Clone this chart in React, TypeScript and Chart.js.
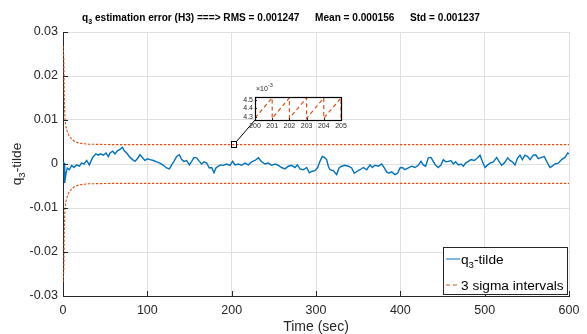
import React, { useEffect, useRef } from "react";
import { Chart, registerables } from "chart.js";

Chart.register(...registerables);

const FONT = "'Liberation Sans', Arial, Helvetica, sans-serif";
const AXIS_COLOR = "#262626";
const GRID_COLOR = "#dfdfdf";
const BLUE = "#0072BD";
const ORANGE = "#D95319";

// ---- data ----
const errorTime = [
  0, 1.2, 2.0, 3.6, 5.1, 7.5, 10.3, 13.0, 16.2, 19.4, 22.1, 24.9, 28.1, 31.2, 34.0, 36.0, 39.1, 41.9, 44.7, 47.8,
  51.0, 53.8, 55.7, 58.9, 61.7, 64.4, 67.6, 70.4, 72.7, 75.5, 79.5, 82.6, 85.4, 88.1, 91.3, 94.5, 97.2, 100.0,
  103.2, 107.1, 111.1, 115.0, 119.0, 122.9, 126.1, 128.9, 131.6, 134.8, 138.0, 140.7, 143.5, 146.6, 149.8, 152.6,
  155.3, 158.5, 161.7, 164.4, 167.2, 170.4, 173.5, 176.3, 179.0, 181.4, 184.2, 187.0, 190.1, 194.1, 198.0, 201.2,
  204.0, 207.9, 211.9, 215.8, 219.8, 223.7, 227.7, 231.6, 235.6, 239.5, 243.5, 247.4, 251.4, 255.3, 259.3, 263.2,
  267.2, 271.1, 275.1, 277.9, 281.0, 285.0, 288.9, 292.1, 294.9, 298.8, 302.0, 304.7, 307.5, 309.9, 312.6, 314.6,
  316.6, 320.5, 324.5, 327.3, 330.4, 334.4, 338.3, 342.3, 345.4, 348.2, 352.2, 356.1, 360.1, 364.0, 366.8, 370.0,
  373.9, 377.9, 381.0, 383.8, 386.5, 389.7, 393.7, 396.8, 399.6, 402.4, 405.5, 409.5, 413.4, 417.4, 421.3, 424.5,
  427.3, 430.0, 433.2, 436.4, 439.1, 441.9, 445.0, 448.2, 451.0, 453.7, 456.9, 460.1, 462.8, 465.6, 468.8, 471.9,
  474.7, 477.5, 480.6, 483.8, 487.7, 491.7, 494.5, 497.2, 500.4, 503.6, 506.3, 510.3, 514.2, 517.0, 520.1, 523.3,
  527.3, 530.0, 532.8, 536.0, 539.1, 541.9, 544.7, 547.8, 551.0, 553.8, 557.7, 560.5, 563.6, 567.6, 570.7, 573.5,
  577.5, 580.2, 583.4, 587.3, 591.3, 595.3, 598.4, 600,
];
const errorValue = [
  0.0005, 0.0002, -0.0043, -0.0021, -0.0009, -0.0013, -0.0003, -0.0008, -0.0002, -0.0005, 0.0002, 0.0, 0.0008,
  -0.0002, 0.001, 0.0017, 0.0023, 0.002, 0.0023, 0.002, 0.0025, 0.0017, 0.0025, 0.0029, 0.0023, 0.003, 0.0033,
  0.0038, 0.003, 0.0025, 0.0015, 0.001, 0.0006, 0.0012, 0.0021, 0.0014, 0.0008, 0.0012, 0.001, 0.0008, 0.0005,
  0.0002, -0.0003, -0.0009, -0.0011, -0.0002, 0.0006, 0.0017, 0.0021, 0.001, 0.0006, 0.0008, -0.0002, 0.0006,
  0.0015, 0.0014, 0.0006, 0.0, 0.0005, 0.0002, -0.0009, -0.0008, -0.002, -0.0009, -0.0005, -0.0002, -0.0003, 0.0,
  -0.0003, 0.0006, -0.0002, 0.0, -0.0003, 0.0002, -0.0002, 0.0005, 0.0008, 0.0014, 0.0005, 0.0, 0.0002, -0.0003,
  0.0, -0.0003, -0.0008, -0.0011, -0.0005, -0.0003, -0.0008, -0.0002, -0.0011, -0.0013, -0.0008, -0.002, -0.0017,
  -0.0015, -0.0008, 0.0006, 0.0017, 0.0015, 0.001, -0.0005, -0.0013, -0.0015, -0.0024, -0.0009, -0.0005, -0.0003,
  -0.0005, -0.0009, -0.0021, -0.0017, -0.0013, -0.0008, -0.0013, -0.0002, -0.0008, -0.0003, -0.0005, 0.0, -0.0009,
  -0.0018, -0.0021, -0.0018, -0.0024, -0.0021, -0.0009, -0.0008, -0.0013, -0.0009, -0.0005, -0.0008, -0.0003,
  0.0006, -0.0002, -0.0005, 0.0014, 0.0015, 0.0006, -0.0003, -0.0008, -0.0002, 0.001, 0.0005, 0.0006, 0.0008, 0.0,
  0.0005, -0.0002, 0.0, -0.0005, 0.0002, 0.0006, 0.001, 0.0008, 0.0014, 0.002, 0.0006, -0.0008, -0.0002, 0.0002,
  0.0005, 0.0015, 0.0006, -0.0003, 0.0002, 0.0014, 0.0008, 0.0005, -0.0002, 0.0014, 0.002, 0.001, 0.002, 0.0017,
  0.001, 0.002, 0.0021, 0.0012, 0.0015, 0.0017, 0.0006, -0.0008, -0.0005, 0.0, 0.0002, 0.001, 0.0015, 0.0025,
  0.0023,
];
const sigmaTime = [0, 1.0, 1.5, 2.0, 2.5, 3.5, 5, 7, 10, 14, 18, 24, 30, 45, 60, 600];
const sigmaValue = [
  0.0268, 0.024, 0.016, 0.0115, 0.0098, 0.0085, 0.0074, 0.0065, 0.0057, 0.0051, 0.0048, 0.0046, 0.0045, 0.00445,
  0.0044, 0.0044,
];
const insetTime = [200, 201, 201, 202, 202, 203, 203, 204, 204, 205, 205];
const insetValue = [
  0.00429, 0.004525, 0.004285, 0.004525, 0.004285, 0.004525, 0.004285, 0.004525, 0.004285, 0.004525, 0.004285,
];
const xTicks = [0, 100, 200, 300, 400, 500, 600];
const yTicks = [-0.03, -0.02, -0.01, 0, 0.01, 0.02, 0.03];
const insetXTicks = [200, 201, 202, 203, 204, 205];
const insetYTicks = [0.0043, 0.0044, 0.0045];

const titleSegments = [
  { x: 82, base: "q", sub: "3", rest: " estimation error (H3) ===> RMS = 0.001247" },
  { x: 315, base: "Mean = 0.000156", sub: "", rest: "" },
  { x: 410, base: "Std = 0.001237", sub: "", rest: "" },
];
const legendItems = [
  { base: "q", sub: "3", rest: "-tilde", color: BLUE, dash: [] as number[] },
  { base: "3 sigma intervals", sub: "", rest: "", color: ORANGE, dash: [4, 3] },
];

// layout constants
const W = 587;
const H = 334;
const INSET = { left: 225, top: 82, width: 125, height: 52, axisW: 30, axisH: 14, padTop: 15, padRight: 9 };

function font(size: number, bold = false) {
  return `${bold ? "bold " : ""}${size}px ${FONT}`;
}

function subTextWidth(ctx: CanvasRenderingContext2D, base: string, sub: string, rest: string, size: number, bold: boolean) {
  ctx.font = font(size, bold);
  let w = ctx.measureText(base).width + ctx.measureText(rest).width;
  if (sub) {
    ctx.font = font(size * 0.7, bold);
    w += ctx.measureText(sub).width;
  }
  return w;
}

function drawSubText(
  ctx: CanvasRenderingContext2D,
  x: number,
  y: number,
  base: string,
  sub: string,
  rest: string,
  size: number,
  bold: boolean
) {
  ctx.textAlign = "left";
  ctx.textBaseline = "alphabetic";
  ctx.font = font(size, bold);
  ctx.fillText(base, x, y);
  x += ctx.measureText(base).width;
  if (sub) {
    ctx.font = font(size * 0.7, bold);
    ctx.fillText(sub, x, y + size * 0.3);
    x += ctx.measureText(sub).width;
  }
  if (rest) {
    ctx.font = font(size, bold);
    ctx.fillText(rest, x, y);
  }
}

const mainDecor = {
  id: "mainDecor",
  afterDraw(chart: any) {
    const { ctx, chartArea: a } = chart;
    const xs = chart.scales.x;
    const ys = chart.scales.y;
    ctx.save();

    // inward ticks
    ctx.strokeStyle = AXIS_COLOR;
    ctx.lineWidth = 1;
    ctx.setLineDash([]);
    ctx.beginPath();
    for (const v of xTicks) {
      const px = Math.round(xs.getPixelForValue(v)) + 0.5;
      ctx.moveTo(px, a.bottom);
      ctx.lineTo(px, a.bottom - 5);
    }
    for (const v of yTicks) {
      const py = Math.round(ys.getPixelForValue(v)) + 0.5;
      ctx.moveTo(a.left, py);
      ctx.lineTo(a.left + 5, py);
    }
    ctx.stroke();

    // zoom rectangle + connector
    const x0 = xs.getPixelForValue(insetTime[0]);
    const x1 = xs.getPixelForValue(insetTime[insetTime.length - 1]);
    const yTop = ys.getPixelForValue(Math.max(...insetValue));
    const yBot = ys.getPixelForValue(Math.min(...insetValue));
    ctx.strokeStyle = "#000";
    ctx.lineWidth = 1;
    ctx.strokeRect(Math.round(x0) - 0.5, Math.round(yTop) - 2.5, Math.round(x1 - x0) + 1, Math.round(yBot - yTop) + 5);
    ctx.beginPath();
    ctx.moveTo(Math.round(x1) + 0.5, Math.round(yTop) - 2.5);
    ctx.lineTo(INSET.left + INSET.axisW, INSET.top + INSET.height - INSET.axisH);
    ctx.stroke();

    // legend
    const lx = 443.5;
    const ly = 247.5;
    const lw = 124;
    const lh = 47;
    ctx.fillStyle = "#fff";
    ctx.fillRect(lx, ly, lw, lh);
    ctx.strokeStyle = AXIS_COLOR;
    ctx.lineWidth = 1;
    ctx.strokeRect(lx, ly, lw, lh);
    legendItems.forEach((it, i) => {
      const by = 263.5 + i * 26;
      ctx.strokeStyle = it.color;
      ctx.lineWidth = 1;
      ctx.setLineDash(it.dash);
      ctx.beginPath();
      ctx.moveTo(446, by - 4.5);
      ctx.lineTo(460, by - 4.5);
      ctx.stroke();
      ctx.setLineDash([]);
      ctx.fillStyle = "#000";
      drawSubText(ctx, 461, by, it.base, it.sub, it.rest, 13.7, false);
    });

    // title
    ctx.fillStyle = "#000";
    for (const s of titleSegments) {
      drawSubText(ctx, s.x, 20.5, s.base, s.sub, s.rest, 10.1, true);
    }

    // axis titles
    ctx.fillStyle = AXIS_COLOR;
    ctx.font = font(14);
    ctx.textAlign = "center";
    ctx.textBaseline = "alphabetic";
    ctx.fillText("Time (sec)", (a.left + a.right) / 2, 330.5);

    ctx.save();
    ctx.translate(20.5, (a.top + a.bottom) / 2);
    ctx.rotate(-Math.PI / 2);
    const tw = subTextWidth(ctx, "q", "3", "-tilde", 13.7, false);
    drawSubText(ctx, -tw / 2, 0, "q", "3", "-tilde", 13.7, false);
    ctx.restore();

    ctx.restore();
  },
};

const insetDecor = {
  id: "insetDecor",
  beforeDraw(chart: any) {
    const { ctx, chartArea: a } = chart;
    ctx.save();
    ctx.fillStyle = "#fff";
    ctx.fillRect(a.left, a.top, a.right - a.left, a.bottom - a.top);
    ctx.restore();
  },
  afterDraw(chart: any) {
    const { ctx, chartArea: a } = chart;
    const xs = chart.scales.x;
    const ys = chart.scales.y;
    ctx.save();
    ctx.strokeStyle = AXIS_COLOR;
    ctx.lineWidth = 1;
    ctx.beginPath();
    for (const v of insetXTicks) {
      const px = Math.round(xs.getPixelForValue(v)) + 0.5;
      ctx.moveTo(px, a.bottom);
      ctx.lineTo(px, a.bottom - 2);
    }
    for (const v of insetYTicks) {
      const py = Math.round(ys.getPixelForValue(v)) + 0.5;
      ctx.moveTo(a.left, py);
      ctx.lineTo(a.left + 2, py);
    }
    ctx.stroke();
    ctx.strokeStyle = "#000";
    ctx.lineWidth = 1.2;
    ctx.strokeRect(Math.round(a.left) + 0.5, Math.round(a.top) + 0.5, Math.round(a.right - a.left), Math.round(a.bottom - a.top));
    // exponent label
    ctx.fillStyle = AXIS_COLOR;
    ctx.textAlign = "left";
    ctx.textBaseline = "alphabetic";
    ctx.font = font(7);
    ctx.fillText("\u00d710", a.left + 1, a.top - 6.5);
    const w = ctx.measureText("\u00d710").width;
    ctx.font = font(5.5);
    ctx.fillText("-3", a.left + 1 + w, a.top - 10);
    ctx.restore();
  },
};

export default function App() {
  const mainRef = useRef<HTMLCanvasElement | null>(null);
  const insetRef = useRef<HTMLCanvasElement | null>(null);

  useEffect(() => {
    if (!mainRef.current || !insetRef.current) return;
    const errPts = errorTime.map((t, i) => ({ x: t, y: errorValue[i] }));
    const upPts = sigmaTime.map((t, i) => ({ x: t, y: sigmaValue[i] }));
    const loPts = sigmaTime.map((t, i) => ({ x: t, y: -sigmaValue[i] }));

    const main = new Chart(mainRef.current, {
      type: "line",
      data: {
        datasets: [
          { data: errPts, borderColor: BLUE, borderWidth: 1.4, pointRadius: 0, tension: 0, fill: false },
          { data: upPts, borderColor: ORANGE, borderWidth: 1.1, borderDash: [2.5, 1.5], pointRadius: 0, tension: 0, fill: false },
          { data: loPts, borderColor: ORANGE, borderWidth: 1.1, borderDash: [2.5, 1.5], pointRadius: 0, tension: 0, fill: false },
        ],
      },
      options: {
        responsive: false,
        animation: false,
        devicePixelRatio: 1,
        layout: { padding: { top: 32, right: 18, left: 0, bottom: 0 } },
        plugins: { legend: { display: false }, title: { display: false }, tooltip: { enabled: false } },
        events: [],
        scales: {
          x: {
            type: "linear",
            min: 0,
            max: 600,
            afterBuildTicks: (s: any) => {
              s.ticks = xTicks.map((v) => ({ value: v }));
            },
            afterFit: (s: any) => {
              s.height = 38;
            },
            ticks: { color: AXIS_COLOR, font: { family: FONT, size: 12.5 }, padding: 7, maxRotation: 0, autoSkip: false },
            grid: { color: GRID_COLOR, lineWidth: 1, drawTicks: false },
            border: { color: AXIS_COLOR, width: 1 },
          },
          y: {
            type: "linear",
            min: -0.03,
            max: 0.03,
            afterBuildTicks: (s: any) => {
              s.ticks = yTicks.map((v) => ({ value: v }));
            },
            afterFit: (s: any) => {
              s.width = 63;
            },
            ticks: {
              color: AXIS_COLOR,
              font: { family: FONT, size: 12.5 },
              padding: 5,
              autoSkip: false,
              callback: (v: any) => {
                const s = Number(v).toFixed(2);
                return s === "0.00" || s === "-0.00" ? "0" : String(Number(s));
              },
            },
            grid: { color: GRID_COLOR, lineWidth: 1, drawTicks: false },
            border: { color: AXIS_COLOR, width: 1 },
          },
        },
      },
      plugins: [mainDecor],
    });

    const insetPts = insetTime.map((t, i) => ({ x: t, y: insetValue[i] }));
    const inset = new Chart(insetRef.current, {
      type: "line",
      data: {
        datasets: [
          { data: insetPts, borderColor: ORANGE, borderWidth: 1.2, borderDash: [4, 3], pointRadius: 0, tension: 0, fill: false },
        ],
      },
      options: {
        responsive: false,
        animation: false,
        devicePixelRatio: 1,
        layout: { padding: { top: INSET.padTop, right: INSET.padRight, left: 0, bottom: 0 } },
        plugins: { legend: { display: false }, title: { display: false }, tooltip: { enabled: false } },
        events: [],
        scales: {
          x: {
            type: "linear",
            min: 200,
            max: 205,
            afterBuildTicks: (s: any) => {
              s.ticks = insetXTicks.map((v) => ({ value: v }));
            },
            afterFit: (s: any) => {
              s.height = INSET.axisH;
            },
            ticks: { color: AXIS_COLOR, font: { family: FONT, size: 7 }, padding: 2, maxRotation: 0, autoSkip: false },
            grid: { display: false, drawTicks: false },
            border: { display: false },
          },
          y: {
            type: "linear",
            min: 0.004265,
            max: 0.004535,
            afterBuildTicks: (s: any) => {
              s.ticks = insetYTicks.map((v) => ({ value: v }));
            },
            afterFit: (s: any) => {
              s.width = INSET.axisW;
            },
            ticks: {
              color: AXIS_COLOR,
              font: { family: FONT, size: 7 },
              padding: 2,
              autoSkip: false,
              callback: (v: any) => (Number(v) * 1000).toFixed(1),
            },
            grid: { display: false, drawTicks: false },
            border: { display: false },
          },
        },
      },
      plugins: [insetDecor],
    });

    return () => {
      main.destroy();
      inset.destroy();
    };
  }, []);

  return (
    <div style={{ position: "absolute", left: 0, top: 0, width: W, height: H, background: "#fff" }}>
      <canvas ref={mainRef} width={W} height={H} style={{ position: "absolute", left: 0, top: 0, width: W, height: H }} />
      <canvas
        ref={insetRef}
        width={INSET.width}
        height={INSET.height}
        style={{ position: "absolute", left: INSET.left, top: INSET.top, width: INSET.width, height: INSET.height }}
      />
    </div>
  );
}
